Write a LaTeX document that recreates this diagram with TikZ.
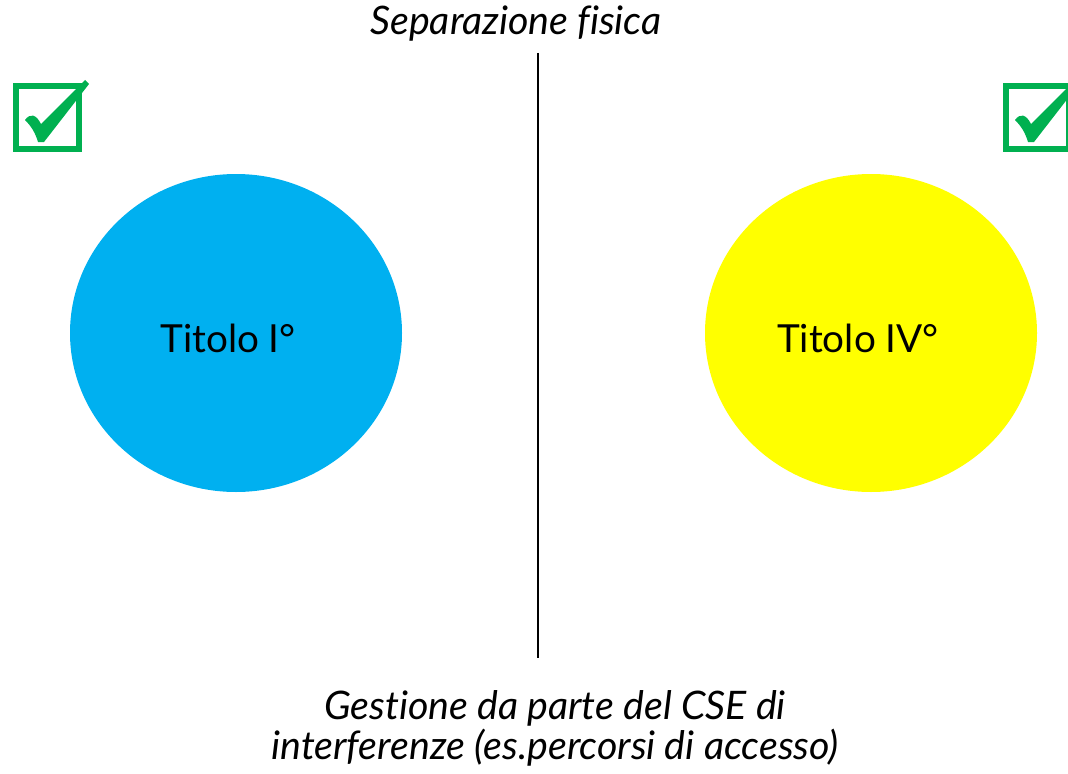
\documentclass[tikz,border=0pt]{standalone}
\usepackage{fontspec}
\setmainfont[Ligatures=NoCommon]{Lato}
\usepackage{xcolor}
\definecolor{skyblue}{RGB}{0,176,240}
\definecolor{lemon}{RGB}{255,255,0}
\definecolor{okgreen}{RGB}{0,176,80}

\tikzset{
    titolo/.style={font=\fontsize{29}{32}\selectfont},
    nota/.style={font=\itshape\fontsize{29.5}{30}\selectfont, align=center},
    tickbox/.pic={
        \draw[okgreen, line width=5.2pt] (0,0) rectangle (63,63);
        \fill[okgreen] (9,34) .. controls (14,27) and (20,28) .. (25,38)
            -- (69,-6) -- (73,-2) -- (28,56) -- (22,56)
            .. controls (19,46) and (15,40) .. cycle;
    }
}

\begin{document}
\begin{tikzpicture}[x=0.75pt, y=-0.75pt]
    \useasboundingbox (0,0) rectangle (1068,774);
    % Separazione verticale
    \coordinate (alto) at (538,53);
    \coordinate (basso) at (538,658);
    \draw[line width=2.2pt] (alto) -- (basso);
    \node[nota] (sep) at (516,24) {Separazione fisica};
    % Cerchi
    \fill[skyblue] (236,333) ellipse [x radius=166, y radius=159];
    \fill[lemon] (871,333) ellipse [x radius=166, y radius=159];
    \node[titolo] (t1) at (228,338) {Titolo I°};
    \node[titolo] (t4) at (858,338) {Titolo IV°};
    % Spunte
    \pic at (16,86) {tickbox};
    \pic at (1006,86) {tickbox};
    \node[nota] (cse) at (555,728) {Gestione da parte del CSE di\\interferenze (es.percorsi di accesso)};
\end{tikzpicture}
\end{document}
